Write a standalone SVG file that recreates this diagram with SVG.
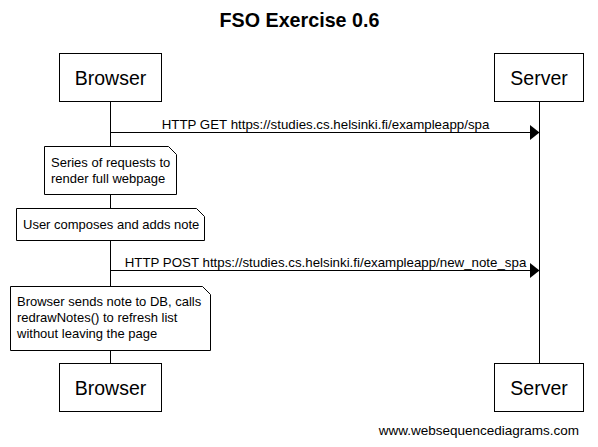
<svg xmlns="http://www.w3.org/2000/svg" width="598" height="447" viewBox="0 0 598 447">
<style>
text{font-family:"Liberation Sans",Arial,sans-serif;fill:#000}
.box{fill:#fff;stroke:#000;stroke-width:1}
.life{stroke:#000;stroke-width:1;fill:none}
.msg{stroke:#000;stroke-width:1;fill:none}
.head{fill:#000;stroke:none}
.actor{font-size:19.5px;text-anchor:middle}
.lbl{font-size:13.3px;text-anchor:middle}
.note{font-size:13px}
</style>
<rect width="598" height="447" fill="#fff"/>
<text x="299.5" y="27" font-size="19.7" font-weight="bold" text-anchor="middle">FSO Exercise 0.6</text>
<g id="lifelines">
<line class="life" x1="110.5" y1="102" x2="110.5" y2="363"/>
<line class="life" x1="539.5" y1="102" x2="539.5" y2="363"/>
</g>
<g id="connectors">
<line class="msg" x1="110.5" y1="132.5" x2="531" y2="132.5"/>
<polygon class="head" points="539.5,132.5 530,125 530,140"/>
<text class="lbl" x="325.5" y="129">HTTP GET https://studies.cs.helsinki.fi/exampleapp/spa</text>
<line class="msg" x1="110.5" y1="270.5" x2="531" y2="270.5"/>
<polygon class="head" points="539.5,270.5 530,263 530,278"/>
<text class="lbl" x="325.5" y="267">HTTP POST https://studies.cs.helsinki.fi/exampleapp/new_note_spa</text>
</g>
<g id="browser-top">
<rect class="box" x="59.5" y="53.5" width="102" height="48"/>
<text class="actor" x="110.5" y="85">Browser</text>
</g>
<g id="server-top">
<rect class="box" x="494.5" y="53.5" width="89" height="48"/>
<text class="actor" x="539" y="85">Server</text>
</g>
<g id="note1">
<path class="box" d="M44.5,146.5 H168.5 L176.5,154.5 V194.5 H44.5 Z"/>
<text class="note" x="51" y="166.5">Series of requests to</text>
<text class="note" x="51" y="182.5">render full webpage</text>
</g>
<g id="note2">
<path class="box" d="M16.5,208.5 H196.5 L204.5,216.5 V240.5 H16.5 Z"/>
<text class="note" x="23" y="229">User composes and adds note</text>
</g>
<g id="note3">
<path class="box" d="M10.5,286.5 H202.5 L210.5,294.5 V350.5 H10.5 Z"/>
<text class="note" x="17" y="306">Browser sends note to DB, calls</text>
<text class="note" x="17" y="322">redrawNotes() to refresh list</text>
<text class="note" x="17" y="338">without leaving the page</text>
</g>
<g id="browser-bottom">
<rect class="box" x="59.5" y="363.5" width="102" height="48"/>
<text class="actor" x="110.5" y="395">Browser</text>
</g>
<g id="server-bottom">
<rect class="box" x="494.5" y="363.5" width="89" height="48"/>
<text class="actor" x="539" y="395">Server</text>
</g>
<text x="579" y="435" font-size="13.5" text-anchor="end">www.websequencediagrams.com</text>
</svg>
